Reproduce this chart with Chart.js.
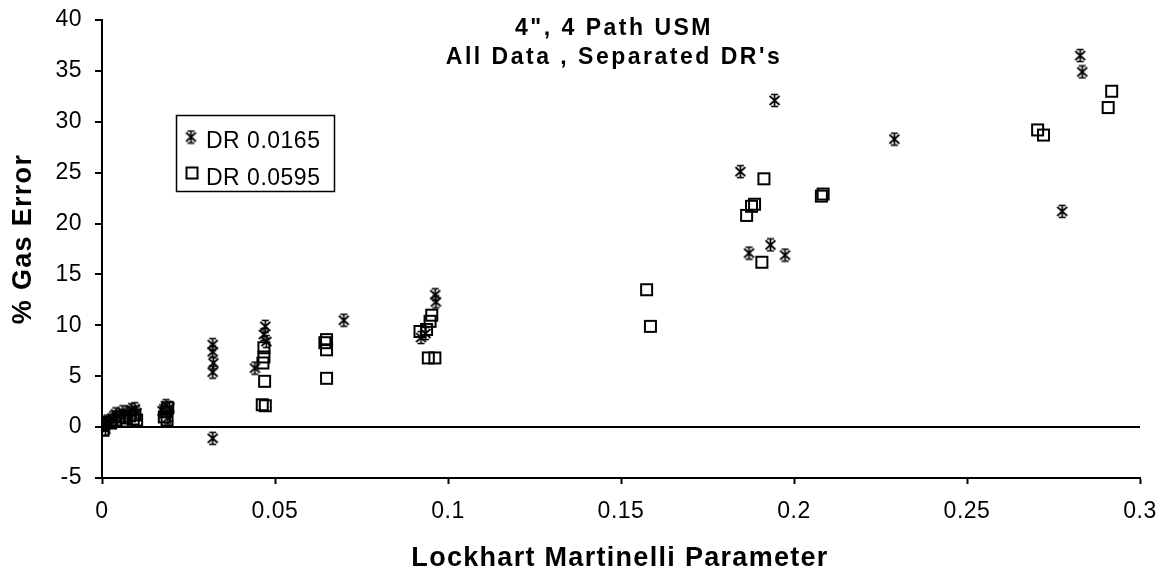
<!DOCTYPE html>
<html>
<head>
<meta charset="utf-8">
<script src="https://cdn.jsdelivr.net/npm/chart.js@4/dist/chart.umd.min.js"></script>
<style>
html,body{margin:0;padding:0;background:#fff;}
canvas{display:block;}
</style>
</head>
<body>
<canvas id="c" width="1165" height="574"></canvas>
<script>
// ---- data ----
const chartTitle = ['4", 4 Path USM', "All Data , Separated DR's"];
const xAxisTitle = 'Lockhart Martinelli Parameter';
const yAxisTitle = '% Gas Error';
const seriesNames = ['DR 0.0165', 'DR 0.0595'];
const xTickLabels = ['0', '0.05', '0.1', '0.15', '0.2', '0.25', '0.3'];
const yTickLabels = ['-5', '0', '5', '10', '15', '20', '25', '30', '35', '40'];

const dr0165X = [0.0005, 0.001, 0.0015, 0.003, 0.004, 0.005, 0.006, 0.0075, 0.0085, 0.0095, 0.01,
  0.0175, 0.0185, 0.0195, 0.019,
  0.032, 0.032, 0.0322, 0.032, 0.032,
  0.0472, 0.0468, 0.0475, 0.0442,
  0.0699,
  0.0963, 0.0965, 0.0922, 0.0935,
  0.1845, 0.1944, 0.187, 0.1932, 0.1974,
  0.229, 0.2775, 0.2827, 0.2833];
const dr0165Y = [0.3, -0.2, 0.6, 0.9, 1.3, 1.1, 1.5, 1.4, 1.7, 1.8, 1.4,
  1.6, 2.1, 1.9, 0.9,
  8.1, 7.4, 6.3, 5.4, -1.1,
  9.9, 9.1, 8.4, 5.8,
  10.5,
  13.0, 12.3, 8.8, 9.2,
  25.1, 32.1, 17.1, 17.9, 16.9,
  28.3, 21.2, 36.5, 34.9];

const dr0595X = [0.0003, 0.0005, 0.001, 0.0025, 0.004, 0.005, 0.006, 0.007, 0.008, 0.009, 0.0095, 0.01,
  0.018, 0.0185, 0.019, 0.0188,
  0.0468, 0.0468, 0.0465, 0.047, 0.0463, 0.0472,
  0.0644, 0.0649, 0.0649, 0.0649,
  0.0953, 0.0948, 0.0938, 0.0919, 0.0943, 0.0962,
  0.1574, 0.1585,
  0.1863, 0.1877, 0.1886, 0.1913, 0.1907,
  0.2079, 0.2084,
  0.2704, 0.2721, 0.2918, 0.2908];
const dr0595Y = [-0.3, 0.2, 0.5, 0.4, 0.7, 1.0, 0.6, 0.9, 1.1, 0.8, 1.2, 0.7,
  1.0, 1.5, 1.9, 0.7,
  7.8, 6.9, 6.3, 4.5, 2.2, 2.1,
  8.3, 8.6, 7.6, 4.8,
  11.0, 10.4, 9.6, 9.4, 6.8, 6.8,
  13.5, 9.9,
  20.8, 21.7, 21.9, 24.4, 16.2,
  22.7, 22.9,
  29.2, 28.7, 33.0, 31.4];

// ---- markers ----
function makeStar() {
  const c = document.createElement('canvas');
  c.width = 15; c.height = 15;
  const g = c.getContext('2d');
  g.strokeStyle = '#000';
  g.lineWidth = 1.7;
  g.beginPath();
  g.moveTo(7.5, 1.5); g.lineTo(7.5, 13.5);
  g.moveTo(2.5, 3); g.lineTo(12.5, 12);
  g.moveTo(12.5, 3); g.lineTo(2.5, 12);
  g.moveTo(4, 1.5); g.lineTo(11, 1.5);
  g.moveTo(4, 13.5); g.lineTo(11, 13.5);
  g.stroke();
  return c;
}
function makeSquare() {
  const c = document.createElement('canvas');
  c.width = 15; c.height = 15;
  const g = c.getContext('2d');
  g.strokeStyle = '#000';
  g.lineWidth = 2;
  g.strokeRect(2, 2, 11, 11);
  return c;
}
const starImg = makeStar();
const squareImg = makeSquare();

function pts(xs, ys) { return xs.map((x, i) => ({x: x, y: ys[i]})); }

const FONT = '"Liberation Sans", Arial, sans-serif';

function noPad(s) { s.paddingTop = 0; s.paddingBottom = 0; s.paddingLeft = 0; s.paddingRight = 0; }

const textPlugin = {
  id: 'texts',
  beforeDraw(chart) {
    chart.ctx.letterSpacing = '0.5px';
  },
  afterDraw(chart) {
    const ctx = chart.ctx;
    ctx.save();
    ctx.fillStyle = '#000';
    // chart title
    ctx.font = 'bold 23px ' + FONT;
    ctx.letterSpacing = '2.5px';
    ctx.textAlign = 'center';
    ctx.textBaseline = 'alphabetic';
    ctx.fillText(chartTitle[0], 614, 35);
    ctx.fillText(chartTitle[1], 614, 64);
    // x axis title
    ctx.font = 'bold 27px ' + FONT;
    ctx.letterSpacing = '1.3px';
    ctx.fillText(xAxisTitle, 620, 566);
    // y axis title
    ctx.save();
    ctx.translate(31, 239);
    ctx.rotate(-Math.PI / 2);
    ctx.fillText(yAxisTitle, 0, 0);
    ctx.restore();
    // legend
    ctx.lineWidth = 1.5;
    ctx.strokeStyle = '#000';
    ctx.strokeRect(176.5, 115.5, 158, 76);
    ctx.drawImage(starImg, 191 - 7.5, 137 - 7.5);
    ctx.drawImage(squareImg, 192 - 7.5, 173 - 7.5);
    ctx.font = '23px ' + FONT;
    ctx.letterSpacing = '0.5px';
    ctx.textAlign = 'left';
    ctx.fillText(seriesNames[0], 206, 148);
    ctx.fillText(seriesNames[1], 206, 185);
    ctx.restore();
    ctx.letterSpacing = '0px';
  }
};

new Chart(document.getElementById('c'), {
  type: 'scatter',
  data: {
    datasets: [
      { label: seriesNames[0], data: pts(dr0165X, dr0165Y), pointStyle: starImg, pointRadius: 7, showLine: false },
      { label: seriesNames[1], data: pts(dr0595X, dr0595Y), pointStyle: squareImg, pointRadius: 7, showLine: false }
    ]
  },
  options: {
    responsive: false,
    devicePixelRatio: 1,
    animation: false,
    layout: { padding: { left: 0, right: 25, top: 20, bottom: 0 } },
    plugins: { legend: { display: false }, tooltip: { enabled: false }, title: { display: false } },
    scales: {
      x: {
        type: 'linear', min: 0, max: 0.3,
        afterFit(s) { s.height = 96; noPad(s); },
        afterBuildTicks(s) { s.ticks = xTickLabels.map((t, i) => ({ value: i * 0.05 })); },
        ticks: {
          callback: (v, i) => xTickLabels[i],
          color: '#000', font: { size: 23, family: FONT }, padding: 14, maxRotation: 0, autoSkip: false
        },
        grid: { drawOnChartArea: false, tickLength: 6, tickColor: '#000', tickWidth: 2 },
        border: { color: '#000', width: 2 }
      },
      y: {
        type: 'linear', min: -5, max: 40,
        afterFit(s) { s.width = 102; noPad(s); },
        afterBuildTicks(s) { s.ticks = yTickLabels.map((t, i) => ({ value: -5 + i * 5 })); },
        ticks: {
          callback: (v, i) => yTickLabels[i],
          color: '#000', font: { size: 23, family: FONT }, padding: 13, autoSkip: false
        },
        grid: {
          color: c => (c.tick && c.tick.value === 0) ? '#000' : 'rgba(0,0,0,0)',
          lineWidth: 2, tickLength: 7, tickColor: '#000', tickWidth: 2
        },
        border: { color: '#000', width: 2 }
      }
    }
  },
  plugins: [textPlugin]
});
</script>
</body>
</html>
